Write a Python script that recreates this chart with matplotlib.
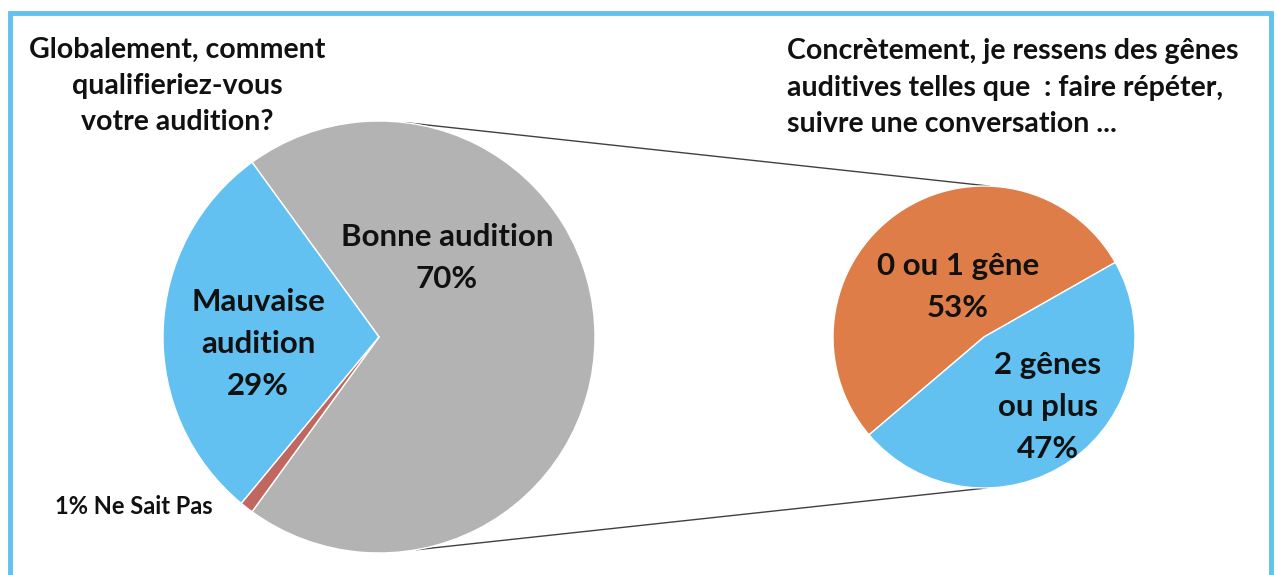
import numpy as np
import matplotlib.pyplot as plt
from matplotlib.patches import Rectangle

plt.rcParams['font.family'] = ['Lato', 'DejaVu Sans']

# main pie: overall hearing
main_labels = ['Bonne audition', 'Mauvaise\naudition', 'Ne Sait Pas']
main_values = [70, 29, 1]
main_colors = ['#b3b3b3', '#62c1f1', '#c0685f']

# secondary pie: detail of "Bonne audition"
sub_labels = ['0 ou 1 gêne', '2 gênes\nou plus']
sub_values = [53, 47]
sub_colors = ['#de7d47', '#62c1f1']

title_left = 'Globalement, comment\nqualifieriez-vous\nvotre audition?'
title_right = ('Concrètement, je ressens des gênes\n'
               'auditives telles que  : faire répéter,\n'
               'suivre une conversation ...')

W, H = 1278, 575
fig = plt.figure(figsize=(W / 100, H / 100), dpi=100)
ax = fig.add_axes([0, 0, 1, 1])

c1, r1 = (379, H - 337), 216
c2, r2 = (984, H - 337), 151

ax.pie(main_values, colors=main_colors, startangle=-126, center=c1,
       radius=r1, frame=True,
       wedgeprops=dict(edgecolor='white', linewidth=1))
ax.pie(sub_values, colors=sub_colors, startangle=29.6, center=c2,
       radius=r2, frame=True,
       wedgeprops=dict(edgecolor='white', linewidth=1))

# connector lines between the two pies
for a1, a2 in [(83, 88), (-80, -89)]:
    p1 = (c1[0] + r1 * np.cos(np.radians(a1)), c1[1] + r1 * np.sin(np.radians(a1)))
    p2 = (c2[0] + r2 * np.cos(np.radians(a2)), c2[1] + r2 * np.sin(np.radians(a2)))
    ax.plot([p1[0], p2[0]], [p1[1], p2[1]], color='#404040', lw=1, zorder=0)

lab = dict(ha='center', va='center', fontsize=22.5, fontweight='bold',
           color='#111111', linespacing=1.6)
ax.text(447, H - 258, f'{main_labels[0]}\n{main_values[0]}%', **lab)
ax.text(258, H - 344, f'{main_labels[1]}\n{main_values[1]}%', **lab)
ax.text(958, H - 287, f'{sub_labels[0]}\n{sub_values[0]}%', **lab)
ax.text(1048, H - 407, f'{sub_labels[1]}\n{sub_values[1]}%', **lab)
ax.text(55, H - 507, f'{main_values[2]}% {main_labels[2]}', ha='left',
        va='center', fontsize=17, fontweight='bold', color='#111111')

ax.text(177, H - 86, title_left, ha='center', va='center', fontsize=20.5,
        fontweight='bold', color='#111111', linespacing=1.5)
ax.text(787, H - 88, title_right, ha='left', va='center', fontsize=20.5,
        fontweight='bold', color='#111111', linespacing=1.5)

ax.add_patch(Rectangle((10, -20), 1261, H - 13 + 20, fill=False,
                       edgecolor='#62c1f1', lw=3.5, zorder=5))

ax.set_xlim(0, W)
ax.set_ylim(0, H)
ax.set_aspect('auto')
ax.axis('off')
fig.savefig('out.png', dpi=100)
